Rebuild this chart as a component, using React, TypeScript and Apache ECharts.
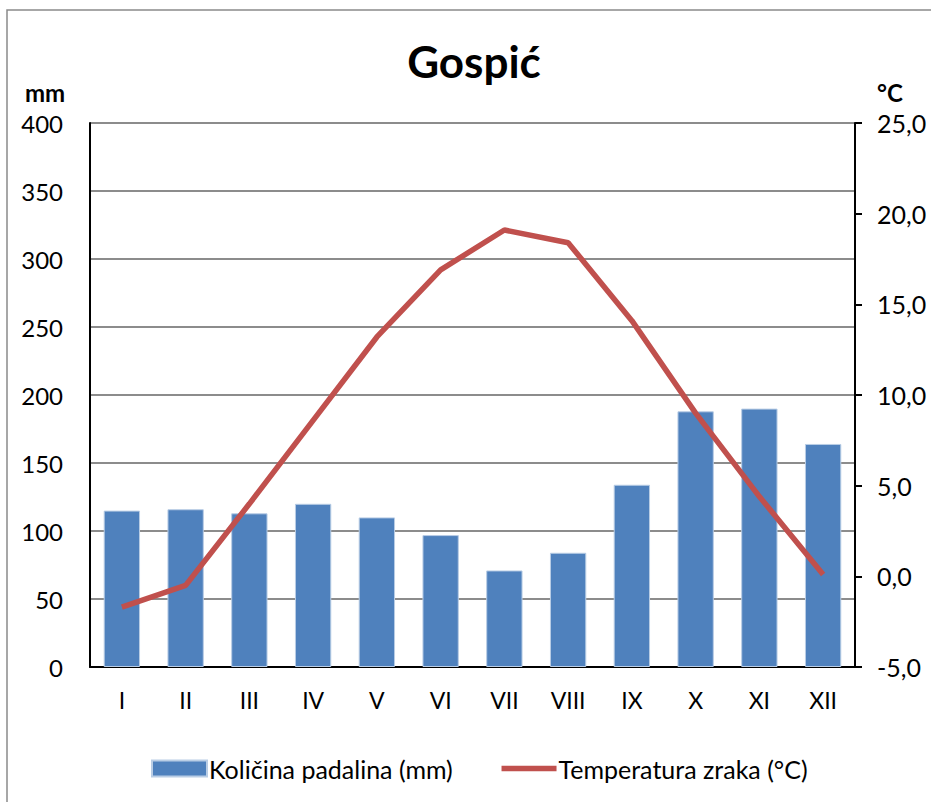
import React, { useEffect, useRef } from "react";
import * as echarts from "echarts";

const months = ["I", "II", "III", "IV", "V", "VI", "VII", "VIII", "IX", "X", "XI", "XII"];
const precipitation = [115, 116, 113, 120, 110, 97, 71, 84, 134, 188, 190, 164];
const temperature = [-1.7, -0.5, 4.0, 8.6, 13.2, 16.9, 19.1, 18.4, 14.1, 9.0, 4.4, 0.1];
const titleText = "Gospić";
const barName = "Količina padalina (mm)";
const lineName = "Temperatura zraka (°C)";

const FONT = "Lato";

export default function App() {
  const ref = useRef<HTMLDivElement>(null);
  useEffect(() => {
    if (!ref.current) return;
    const chart = echarts.init(ref.current, null, { renderer: "svg" });
    chart.setOption({
      animation: false,
      backgroundColor: "#ffffff",
      textStyle: { fontFamily: FONT, color: "#000" },
      title: {
        text: titleText,
        left: 469,
        top: 34,
        textAlign: "center",
        textStyle: { fontFamily: FONT, fontSize: 44, fontWeight: "bold", color: "#000" },
      },
      graphic: [
        {
          type: "rect",
          shape: { x: 7, y: 10, width: 1200, height: 1200 },
          style: { fill: "none", stroke: "#8a8a8a", lineWidth: 1.5 },
          silent: true,
        },
        {
          type: "text",
          left: 25,
          top: 80,
          style: { text: "mm", fontFamily: FONT, fontSize: 24, fontWeight: "bold", fill: "#000" },
        },
        {
          type: "text",
          left: 877,
          top: 80,
          style: { text: "°C", fontFamily: FONT, fontSize: 24, fontWeight: "bold", fill: "#000" },
        },
      ],
      legend: {
        left: 146,
        top: 751,
        itemWidth: 55,
        itemHeight: 16,
        itemGap: 46,
        textStyle: { fontFamily: FONT, fontSize: 25, color: "#000", padding: [0, 0, 0, -3] },
        data: [
          { name: barName, icon: "rect" },
          { name: lineName, itemStyle: { opacity: 0 }, lineStyle: { width: 5.5, color: "#C0504D" } },
        ],
      },
      grid: { left: 90, right: 76, top: 123, bottom: 135, containLabel: false },
      xAxis: {
        type: "category",
        data: months,
        axisLine: { lineStyle: { color: "#000", width: 2 } },
        axisTick: { show: false },
        axisLabel: { fontFamily: FONT, fontSize: 23, color: "#000", margin: 21 },
      },
      yAxis: [
        {
          type: "value",
          min: 0,
          max: 400,
          interval: 50,
          axisLine: { show: true, lineStyle: { color: "#000", width: 2 } },
          axisTick: { show: false },
          axisLabel: { fontFamily: FONT, fontSize: 24, color: "#000", margin: 27 },
          splitLine: { lineStyle: { color: "#8c8c8c", width: 2 } },
        },
        {
          type: "value",
          min: -5,
          max: 25,
          interval: 5,
          position: "right",
          axisLine: { show: true, lineStyle: { color: "#000", width: 2 } },
          axisTick: { show: true, length: 7, inside: false, lineStyle: { color: "#000", width: 2 } },
          axisLabel: {
            fontFamily: FONT,
            fontSize: 25,
            color: "#000",
            margin: 22,
            formatter: (v: number) => v.toFixed(1).replace(".", ","),
          },
          splitLine: { show: false },
        },
      ],
      series: [
        {
          name: barName,
          type: "bar",
          data: precipitation,
          yAxisIndex: 0,
          barCategoryGap: "43%",
          itemStyle: { color: "#4F81BD", borderColor: "#b9cde5", borderWidth: 1 },
        },
        {
          name: lineName,
          type: "line",
          data: temperature,
          yAxisIndex: 1,
          symbol: "none",
          lineStyle: { color: "#C0504D", width: 5.5 },
          itemStyle: { color: "#C0504D" },
        },
      ],
    });
    return () => chart.dispose();
  }, []);
  return (
    <div
      ref={ref}
      style={{ position: "fixed", left: 0, top: 0, width: 931, height: 802 }}
    />
  );
}
